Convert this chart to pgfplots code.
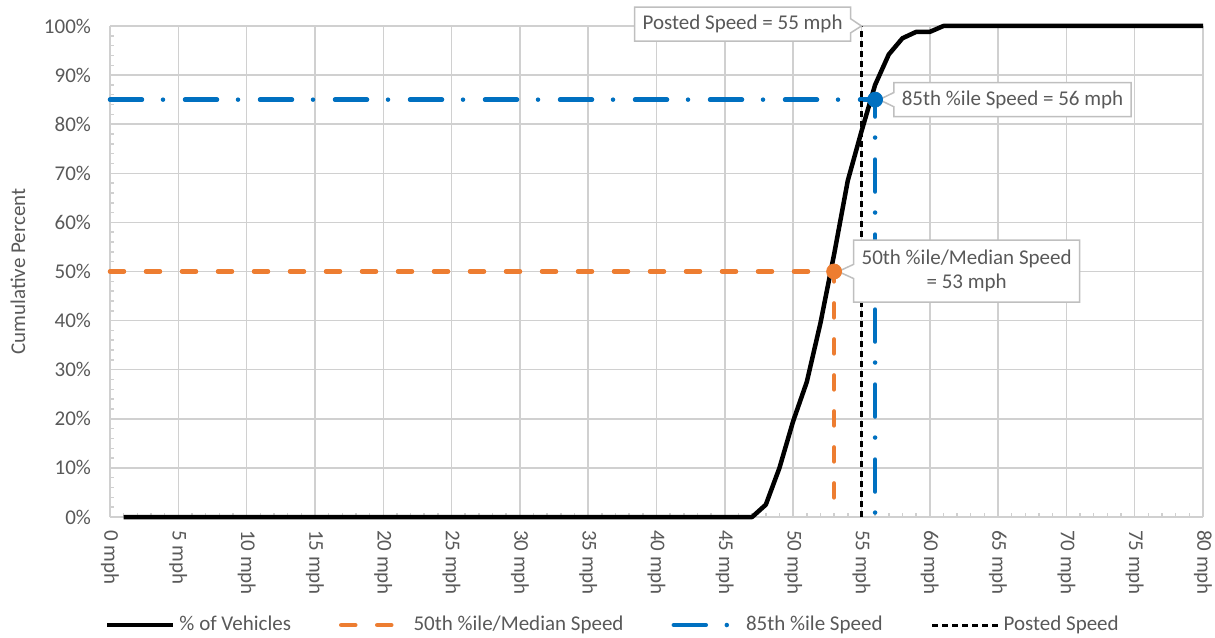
\documentclass[border=0pt]{standalone}
\usepackage{fontspec}
\setmainfont{Carlito}
\usepackage{pgfplots}
\pgfplotsset{compat=1.18}
\usetikzlibrary{shapes.callouts}

\definecolor{orng}{HTML}{ED7D31}
\definecolor{blu}{HTML}{0070C0}
\definecolor{gridc}{HTML}{D0D0D0}
\definecolor{txt}{HTML}{595959}
\definecolor{boxc}{HTML}{BFBFBF}

\begin{document}
\begin{tikzpicture}
\begin{axis}[
    width=546.5pt, height=245.5pt, scale only axis,
    xmin=0, xmax=80, ymin=0, ymax=100,
    xtick={0,5,...,80},
    xticklabels={0 mph,5 mph,10 mph,15 mph,20 mph,25 mph,30 mph,35 mph,40 mph,45 mph,50 mph,55 mph,60 mph,65 mph,70 mph,75 mph,80 mph},
    ytick={0,10,...,100},
    yticklabels={0\%,10\%,20\%,30\%,40\%,50\%,60\%,70\%,80\%,90\%,100\%},
    minor x tick num=4, minor y tick num=4,
    grid=major,
    major grid style={gridc, line width=0.75pt},
    axis x line*=bottom, axis y line*=left,
    axis line style={gridc, line width=0.75pt, -},
    tick align=inside,
    major tick length=0pt, minor tick length=2pt,
    minor tick style={gridc, line width=0.75pt},
    tick label style={font=\fontsize{10.5}{12}\selectfont, text=txt},
    xticklabel style={yshift=-3pt, rotate=-90, anchor=west},
    yticklabel shift=6pt,
    ylabel={Cumulative Percent},
    every axis y label/.style={at={(axis description cs:0,0.5)}, xshift=-46pt,
        rotate=90, anchor=center, font=\fontsize{10.5}{12}\selectfont, text=txt},
    clip=false,
    legend style={draw=none, at={(axis description cs:0.461,-0.22)}, anchor=center,
        font=\fontsize{10.5}{12}\selectfont, text=txt,
        /tikz/every even column/.append style={column sep=22pt}},
    legend columns=4,
    legend image code/.code={\draw[#1] (0pt,0pt) -- (33pt,0pt);},
]
% cumulative speed curve
\addplot[black, line width=2.25pt, line join=round] coordinates {
    (1,0) (47,0) (48,2.5) (49,10) (50,19.5) (51,27.5) (52,39.5) (53,53.5)
    (54,68.5) (55,78.5) (56,88) (57,94.2) (58,97.5) (59,98.8) (60,98.8)
    (61,100) (80,100)};
\addlegendentry{\% of Vehicles}
% median
\addplot[orng, line width=2.25pt, line cap=round, dash pattern=on 7pt off 11pt] coordinates {
    (0,50) (53,50) (53,0)};
\addlegendentry{50th \%ile/Median Speed}
% 85th percentile
\addplot[blu, line width=2.25pt, line cap=round, dash pattern=on 16pt off 10.5pt on 0pt off 11pt] coordinates {
    (0,85) (56,85) (56,0)};
\addlegendentry{85th \%ile Speed}
% posted speed
\addplot[black, line width=1.5pt, dash pattern=on 3pt off 2pt] coordinates {
    (55,0) (55,100)};
\addlegendentry{Posted Speed}
% markers
\addplot[only marks, mark=*, mark size=3.75pt, orng, forget plot] coordinates {(53,50)};
\addplot[only marks, mark=*, mark size=3.75pt, blu, forget plot] coordinates {(56,85)};

% callouts
\node[rectangle callout, draw=boxc, fill=white, line width=0.75pt, text=txt,
      font=\fontsize{10.5}{12}\selectfont, inner xsep=4pt, minimum height=17pt,
      callout absolute pointer={(axis cs:55,100)}] at (axis cs:46.3,100.4) {Posted Speed = 55 mph};
\node[rectangle callout, draw=boxc, fill=white, line width=0.75pt, text=txt,
      font=\fontsize{10.5}{12}\selectfont, inner xsep=4pt, minimum height=17pt,
      callout absolute pointer={(axis cs:56.3,85)}] at (axis cs:66.06,85) {85th \%ile Speed = 56 mph};
\node[rectangle callout, draw=boxc, fill=white, line width=0.75pt, text=txt,
      font=\fontsize{10.5}{12}\selectfont, inner xsep=4pt, minimum height=31pt, align=center,
      callout absolute pointer={(axis cs:53.3,50)}] at (axis cs:62.7,50.1) {50th \%ile/Median Speed\\= 53 mph};

\coordinate (sw) at (rel axis cs:0,0);
\coordinate (ne) at (rel axis cs:1,1);
\end{axis}
\pgfresetboundingbox
\path ([shift={(-55pt,-60pt)}]sw) rectangle ([shift={(6pt,13pt)}]ne);
\end{tikzpicture}
\end{document}
